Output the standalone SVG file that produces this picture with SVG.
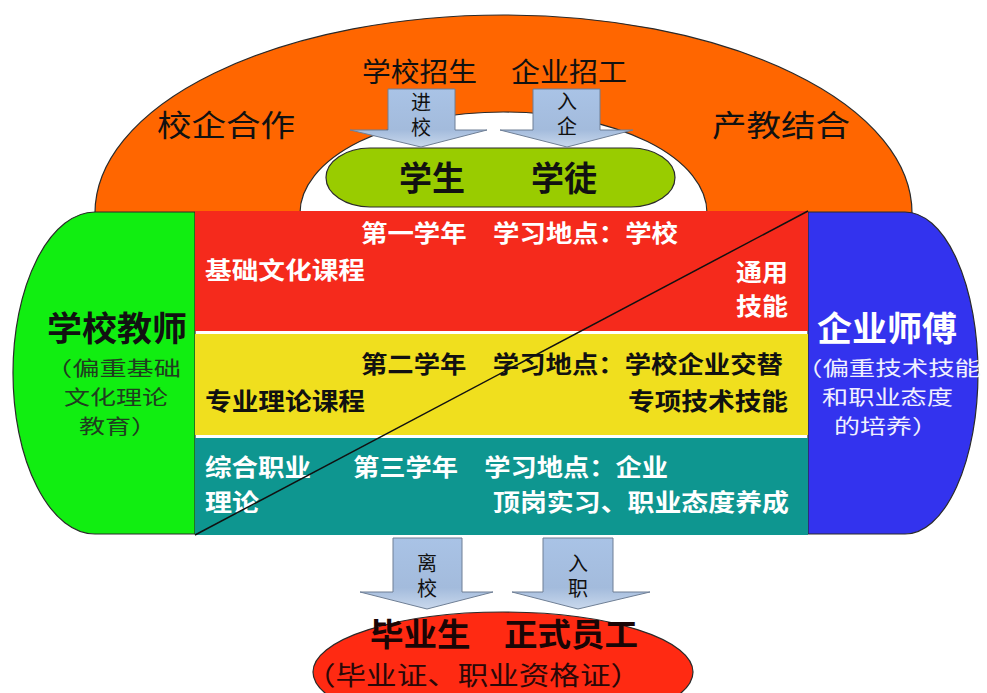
<svg xmlns="http://www.w3.org/2000/svg" width="987" height="693" viewBox="0 0 987 693">
<defs>
<linearGradient id="arrowGrad" x1="0" y1="0" x2="0" y2="1">
<stop offset="0" stop-color="#a9c3e6"/>
<stop offset="0.7" stop-color="#a3bbdc"/>
<stop offset="1" stop-color="#c9d8ec"/>
</linearGradient>
</defs>
<style>
text{font-family:"Noto Sans CJK SC","Noto Sans CJK TC",sans-serif;}
.ol{stroke:#2a2a2a;stroke-width:1.2;}
.arrow{fill:url(#arrowGrad);stroke:#6f7f95;stroke-width:1;}
.vt{writing-mode:vertical-rl;font-size:20px;letter-spacing:5px;fill:#111111;}
.bd{font-weight:bold;}
.w{fill:#ffffff;}
.k{fill:#111111;}
.sub{fill:#1f3d1f;}
</style>
<rect x="0" y="0" width="987" height="693" fill="#ffffff"/>

<g id="arch">
<path class="ol" fill="#ff6600" d="M95,213 A408.5,198 0 0 1 912,213 H707 A203.5,101 0 0 0 300,213 Z"/>
<text x="157" y="136" font-size="30" textLength="138" lengthAdjust="spacingAndGlyphs" class="k">校企合作</text>
<text x="712" y="136" font-size="30" textLength="138" lengthAdjust="spacingAndGlyphs" class="k">产教结合</text>
<text x="362" y="82" font-size="27" textLength="115" lengthAdjust="spacingAndGlyphs" class="k">学校招生</text>
<text x="511" y="82" font-size="27" textLength="116" lengthAdjust="spacingAndGlyphs" class="k">企业招工</text>
</g>

<g id="students">
<rect class="ol" x="326" y="148" width="349" height="59" rx="44" ry="29.5" fill="#99cc00"/>
<text x="399" y="191" font-size="34" textLength="66" lengthAdjust="spacingAndGlyphs" class="k bd">学生</text>
<text x="531" y="191" font-size="34" textLength="66" lengthAdjust="spacingAndGlyphs" class="k bd">学徒</text>
</g>

<g id="school-teacher">
<path class="ol" fill="#11ee11" d="M195,212 H95 A82,161 0 0 0 13,373 A82,161 0 0 0 95,534 H195 Z"/>
<text x="47" y="341" font-size="34" textLength="140" lengthAdjust="spacingAndGlyphs" class="k bd">学校教师</text>
<text x="45" y="376" font-size="20" textLength="136" lengthAdjust="spacingAndGlyphs" class="sub">（偏重基础</text>
<text x="64" y="405" font-size="20" textLength="104" lengthAdjust="spacingAndGlyphs" class="sub">文化理论</text>
<text x="79" y="434" font-size="20" textLength="78" lengthAdjust="spacingAndGlyphs" class="sub">教育）</text>
</g>

<g id="enterprise-master">
<path class="ol" fill="#3333ee" d="M808,212 H905 A73,161 0 0 1 978,373 A73,161 0 0 1 905,534 H808 Z"/>
<text x="817" y="341" font-size="34" textLength="140" lengthAdjust="spacingAndGlyphs" class="w bd">企业师傅</text>
<text x="796" y="376" font-size="20" textLength="185" lengthAdjust="spacingAndGlyphs" fill="#f0f0ff">（偏重技术技能</text>
<text x="822" y="405" font-size="20" textLength="131" lengthAdjust="spacingAndGlyphs" fill="#f0f0ff">和职业态度</text>
<text x="834" y="434" font-size="20" textLength="104" lengthAdjust="spacingAndGlyphs" fill="#f0f0ff">的培养）</text>
</g>

<g id="year1">
<rect x="195" y="211" width="613" height="120" fill="#f52a1c"/>
<text x="361" y="242" font-size="24" textLength="317" lengthAdjust="spacingAndGlyphs" class="w bd">第一学年　学习地点：学校</text>
<text x="205" y="279" font-size="24" textLength="160" lengthAdjust="spacingAndGlyphs" class="w bd">基础文化课程</text>
<text x="736" y="281" font-size="24" textLength="52" lengthAdjust="spacingAndGlyphs" class="w bd">通用</text>
<text x="736" y="315" font-size="24" textLength="52" lengthAdjust="spacingAndGlyphs" class="w bd">技能</text>
</g>

<g id="year2">
<rect x="195" y="334" width="613" height="101" fill="#f0df1e"/>
<text x="361" y="373" font-size="24" textLength="422" lengthAdjust="spacingAndGlyphs" class="k bd">第二学年　学习地点：学校企业交替</text>
<text x="205" y="410" font-size="24" textLength="160" lengthAdjust="spacingAndGlyphs" class="k bd">专业理论课程</text>
<text x="628" y="410" font-size="24" textLength="160" lengthAdjust="spacingAndGlyphs" class="k bd">专项技术技能</text>
</g>

<g id="year3">
<rect x="195" y="438" width="613" height="97" fill="#0e9690"/>
<text x="205" y="476" font-size="24" textLength="106" lengthAdjust="spacingAndGlyphs" class="w bd">综合职业</text>
<text x="353" y="476" font-size="24" textLength="315" lengthAdjust="spacingAndGlyphs" class="w bd">第三学年　学习地点：企业</text>
<text x="205" y="511" font-size="24" textLength="54" lengthAdjust="spacingAndGlyphs" class="w bd">理论</text>
<text x="493" y="511" font-size="24" textLength="296" lengthAdjust="spacingAndGlyphs" class="w bd">顶岗实习、职业态度养成</text>
</g>

<g id="graduates">
<ellipse class="ol" cx="503" cy="672" rx="190" ry="60" fill="#ff2a12"/>
<text x="370" y="646" font-size="32" textLength="268" lengthAdjust="spacingAndGlyphs" fill="#1a0505" class="bd">毕业生　正式员工</text>
<text x="305" y="685" font-size="26" textLength="336" lengthAdjust="spacingAndGlyphs" fill="#2a0808">（毕业证、职业资格证）</text>
</g>

<g id="connectors">
<line x1="195" y1="535" x2="808" y2="211" stroke="#111111" stroke-width="1.5"/>
<path class="arrow" d="M388,89 H455 V130 H487 L421,147 L350,130 H388 Z"/>
<path class="arrow" d="M533,89 H600 V130 H633 L567,147 L500,130 H533 Z"/>
<path class="arrow" d="M393,538 H462 V592 H493 L427,609 L360,592 H393 Z"/>
<path class="arrow" d="M543,538 H613 V592 H650 L578,609 L512,592 H543 Z"/>
<text class="vt" x="421" y="92">进校</text>
<text class="vt" x="567" y="91">入企</text>
<text class="vt" x="427" y="553">离校</text>
<text class="vt" x="578" y="553">入职</text>
</g>
</svg>
